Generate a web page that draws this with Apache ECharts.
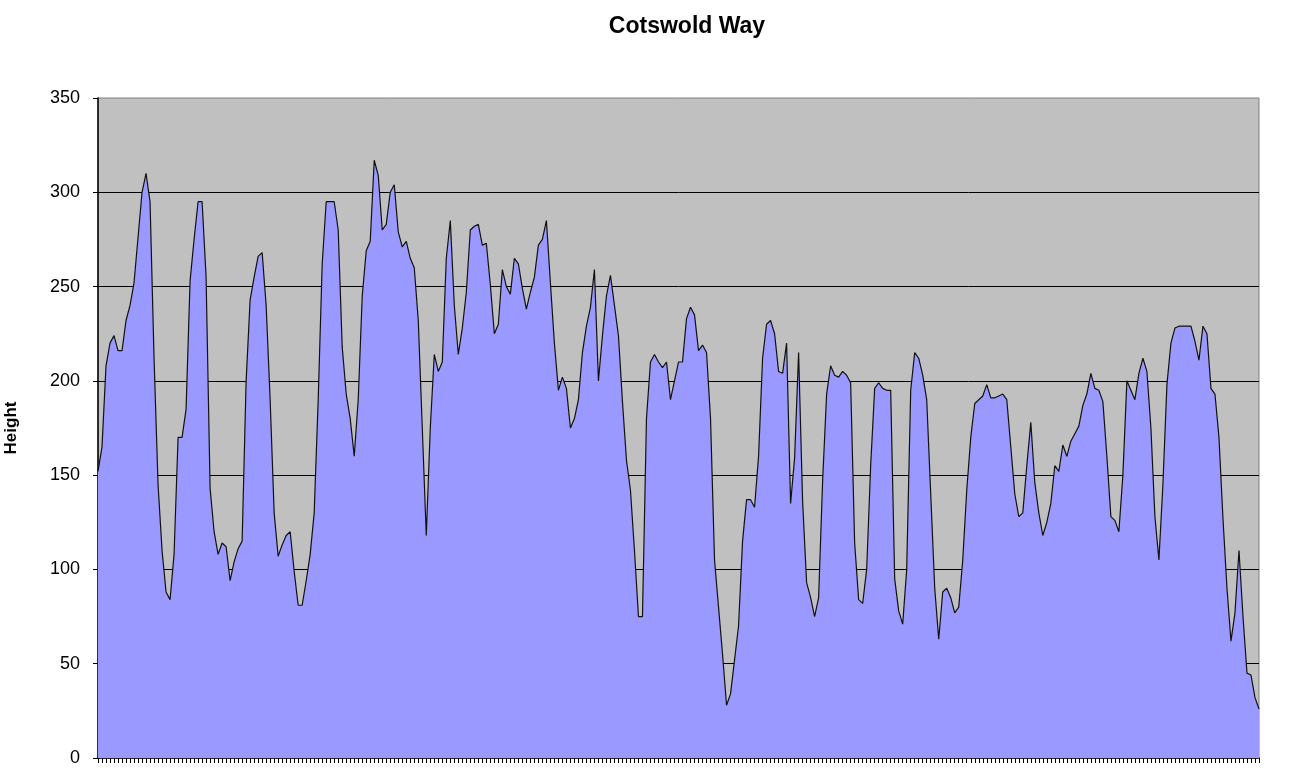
<!DOCTYPE html>
<html>
<head>
<meta charset="utf-8">
<script src="https://cdn.jsdelivr.net/npm/echarts@6/dist/echarts.min.js"></script>
<style>
html,body{margin:0;padding:0;background:#fff;}
#chart{width:1306px;height:778px;}
</style>
</head>
<body>
<div id="chart"></div>
<script>
const titleText = 'Cotswold Way';
const yAxisName = 'Height';
const yTicks = [0, 50, 100, 150, 200, 250, 300, 350];
const heights = [
152,165,208,220,224,216,216,232,240,252,
276,300,310,295,212,145,110,88,84,108,
170,170,185,253,275,295,295,255,143,120,
108,114,112,94,104,111,115,200,243,255,
266,268,240,190,130,107,113,118,120,99,
81,81,94,108,130,190,262,295,295,295,
280,218,193,180,160,190,245,269,274,317,
309,280,283,300,304,279,271,274,265,260,
232,175,118,175,214,205,210,265,285,240,
214,228,247,280,282,283,272,273,251,225,
230,259,250,246,265,262,249,238,247,255,
272,275,285,252,220,195,202,196,175,180,
190,215,229,239,259,200,224,245,256,240,
224,189,158,142,110,75,75,180,210,214,
210,207,210,190,200,210,210,233,239,235,
216,219,215,180,105,80,55,28,34,52,
70,115,137,137,133,160,212,230,232,225,
205,204,220,135,159,215,136,93,85,75,
85,147,193,208,203,202,205,203,199,114,
84,82,100,155,196,199,196,195,195,95,
78,71,100,195,215,212,203,190,140,90,
63,88,90,85,77,80,105,142,170,188,
190,192,198,191,191,192,193,190,165,140,
128,130,155,178,146,130,118,125,135,155,
152,166,160,168,172,176,187,193,204,196,
195,189,160,128,126,120,150,200,195,190,
204,212,205,175,128,105,145,198,220,228,
229,229,229,229,221,211,229,225,196,193,
170,127,90,62,77,110,75,45,44,32,
26
];
const categories = heights.map((_, i) => String(i + 1));

const chart = echarts.init(document.getElementById('chart'));
chart.setOption({
  animation: false,
  backgroundColor: '#ffffff',
  title: {
    text: titleText,
    left: 682,
    top: 10,
    textAlign: 'center',
    textStyle: {fontFamily: 'Liberation Sans, Arial, sans-serif', fontWeight: 'bold', fontSize: 23, color: '#000'}
  },
  grid: {
    left: 98, right: 47, top: 98, bottom: 20,
    containLabel: false,
    outerBoundsMode: 'none',
    show: true, backgroundColor: '#C0C0C0', borderColor: '#808080', borderWidth: 1
  },
  xAxis: {
    type: 'category',
    data: categories,
    boundaryGap: false,
    axisLine: {show: true, lineStyle: {color: '#000', width: 1.5}},
    axisTick: {show: true, interval: 0, length: 5, lineStyle: {color: '#000', width: 1}},
    axisLabel: {show: false},
    splitLine: {show: false}
  },
  yAxis: {
    type: 'value',
    min: yTicks[0],
    max: yTicks[yTicks.length - 1],
    interval: 50,
    name: yAxisName,
    nameLocation: 'middle',
    nameRotate: 90,
    nameGap: 78,
    nameTextStyle: {fontFamily: 'Liberation Sans, Arial, sans-serif', fontWeight: 'bold', fontSize: 17, color: '#000'},
    axisLine: {show: true, lineStyle: {color: '#000', width: 1.5}},
    axisTick: {show: true, length: 5, lineStyle: {color: '#000'}},
    axisLabel: {margin: 18, fontFamily: 'Liberation Sans, Arial, sans-serif', fontSize: 18, color: '#000'},
    splitLine: {show: true, showMaxLine: false, showMinLine: false, lineStyle: {color: '#000', width: 1}}
  },
  series: [{
    type: 'line',
    data: heights,
    symbol: 'none',
    smooth: false,
    lineStyle: {color: '#111', width: 1.2},
    areaStyle: {color: '#9999FF', opacity: 1}
  }]
});
</script>
</body>
</html>
